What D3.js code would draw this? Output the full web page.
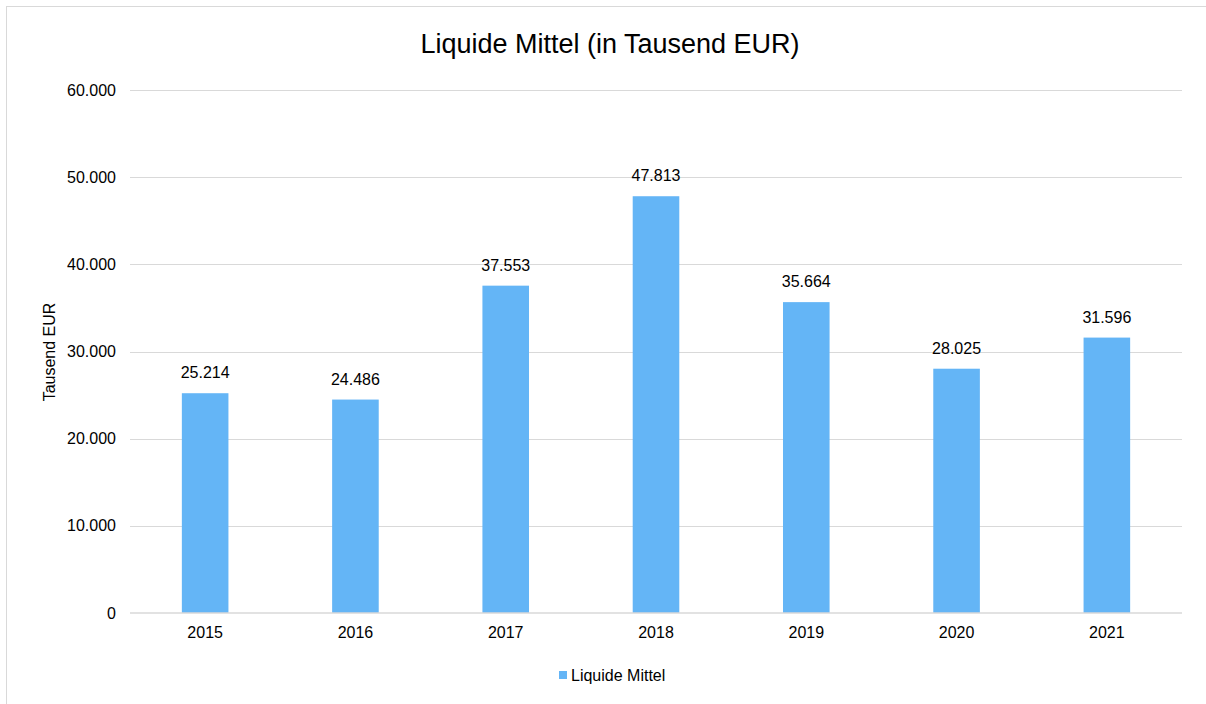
<!DOCTYPE html>
<html>
<head>
<meta charset="utf-8">
<script src="https://cdn.jsdelivr.net/npm/d3@7"></script>
<style>
  html, body { margin: 0; padding: 0; background: #fff; }
  svg { display: block; font-family: "Liberation Sans", Arial, sans-serif; }
</style>
</head>
<body>
<svg id="chart" width="1206" height="704"></svg>
<script>
// Liquid funds per year, in thousand EUR
const years = ["2015", "2016", "2017", "2018", "2019", "2020", "2021"];
const values = [25214, 24486, 37553, 47813, 35664, 28025, 31596];
const yTicks = [0, 10000, 20000, 30000, 40000, 50000, 60000];
const seriesName = "Liquide Mittel";
const titleText = "Liquide Mittel (in Tausend EUR)";
const yAxisTitle = "Tausend EUR";

(function () {
  const svg = d3.select("#chart");
  const W = 1206, H = 704;
  const plotLeft = 130, plotRight = 1182, plotTop = 90, plotBottom = 613;
  const barColor = "#64b5f6";
  const fontSize = 16;

  // German number format: dot as thousands separator
  const fmt = d3.formatLocale({ decimal: ",", thousands: ".", grouping: [3], currency: ["", "€"] }).format(",d");

  // Chart frame
  svg.append("rect")
    .attr("x", 6.5).attr("y", 6.5)
    .attr("width", W - 4).attr("height", H - 4)
    .attr("fill", "#fff").attr("stroke", "#d9d9d9").attr("stroke-width", 1);

  const x = d3.scaleBand().domain(years).range([plotLeft, plotRight]).paddingInner(0.69).paddingOuter(0.345);
  const y = d3.scaleLinear().domain([0, 60000]).range([plotBottom, plotTop]);

  // Gridlines
  svg.append("g").selectAll("line").data(yTicks.filter(d => d > 0)).join("line")
    .attr("x1", plotLeft).attr("x2", plotRight)
    .attr("y1", d => Math.round(y(d)) + 0.5).attr("y2", d => Math.round(y(d)) + 0.5)
    .attr("stroke", "#d9d9d9").attr("stroke-width", 1);

  // Y tick labels
  svg.append("g").selectAll("text").data(yTicks).join("text")
    .attr("x", 116).attr("y", d => y(d))
    .attr("dy", "0.35em").attr("text-anchor", "end")
    .attr("font-size", fontSize).attr("fill", "#000")
    .text(d => fmt(d));

  // Bars
  svg.append("g").selectAll("rect").data(values).join("rect")
    .attr("x", (d, i) => x(years[i]))
    .attr("width", x.bandwidth())
    .attr("y", d => y(d))
    .attr("height", d => y(0) - y(d))
    .attr("fill", barColor);

  // Baseline
  svg.append("line")
    .attr("x1", plotLeft).attr("x2", plotRight)
    .attr("y1", plotBottom).attr("y2", plotBottom)
    .attr("stroke", "#d9d9d9").attr("stroke-width", 1.5);

  // Value labels
  svg.append("g").selectAll("text").data(values).join("text")
    .attr("x", (d, i) => x(years[i]) + x.bandwidth() / 2)
    .attr("y", d => y(d) - 15)
    .attr("text-anchor", "middle")
    .attr("font-size", fontSize).attr("fill", "#000")
    .text(d => fmt(d));

  // X tick labels
  svg.append("g").selectAll("text").data(years).join("text")
    .attr("x", d => x(d) + x.bandwidth() / 2)
    .attr("y", 638)
    .attr("text-anchor", "middle")
    .attr("font-size", fontSize).attr("fill", "#000")
    .text(d => d);

  // Title
  svg.append("text")
    .attr("x", 610).attr("y", 53)
    .attr("text-anchor", "middle")
    .attr("font-size", 27).attr("fill", "#000")
    .text(titleText);

  // Y axis title
  svg.append("text")
    .attr("transform", "translate(55,352) rotate(-90)")
    .attr("text-anchor", "middle")
    .attr("font-size", fontSize).attr("fill", "#000")
    .text(yAxisTitle);

  // Legend
  const lg = svg.append("g").attr("transform", "translate(559,671)");
  lg.append("rect").attr("x", 0).attr("y", 0).attr("width", 8).attr("height", 8).attr("fill", barColor);
  lg.append("text").attr("x", 12).attr("y", 4.5).attr("dy", "0.35em")
    .attr("font-size", fontSize).attr("fill", "#000").text(seriesName);
})();
</script>
</body>
</html>
